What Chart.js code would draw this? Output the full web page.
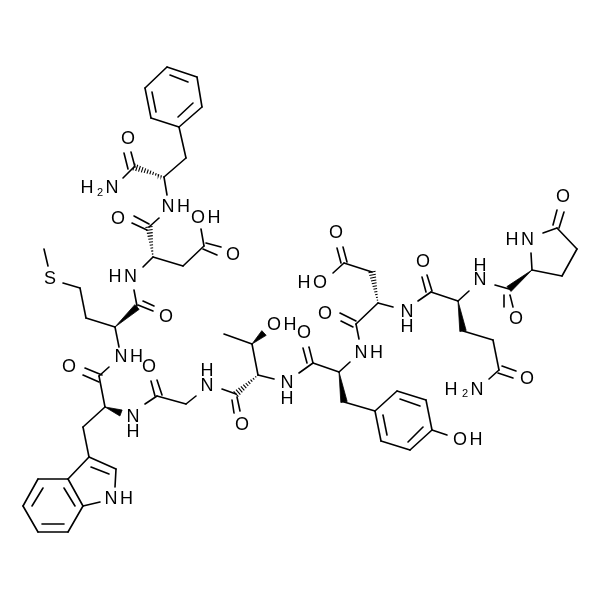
<!DOCTYPE html>
<html>
<head>
<meta charset="utf-8">
<style>html,body{margin:0;padding:0;background:#fff}canvas{display:block}</style>
<script src="https://cdn.jsdelivr.net/npm/chart.js@4"></script>
</head>
<body>
<canvas id="c" width="600" height="600"></canvas>
<script>
// Skeletal bonds as [x1, y1, x2, y2].
const phenylalanine = [
  [167,67,197,77],[197,77,202,107],[202,107,179,127],[179,127,151,118],[151,118,145,88],[145,88,167,67],
  [170,75,188,82],[152,92,156,112],[178,117,193,103],
  [179,127,186,158],[186,158,164,177],[164,177,167,195],
  [134,167,123,178],[124,153,128,169],[131,152,135,167]
];
const aspartate1 = [
  [159,218,149,227],[134,216,149,224],[132,223,147,230],
  [153,257,143,267],[153,257,183,266],[183,266,204,246],
  [201,229,204,246],[206,243,221,247],[203,249,217,255]
];
const methionine = [
  [134,290,137,306],[138,305,153,311],[143,301,154,306],
  [115,327,86,318],[86,318,80,288],[80,288,63,283],[48,266,44,249],
  [115,327,119,347]
];
const tryptophan = [
  [109,367,99,376],[85,368,102,375],[83,375,99,382],[99,376,105,407],
  [105,407,83,427],[83,427,89,457],
  [89,457,116,469],[116,469,115,487],[100,502,83,506],[83,506,68,479],[68,479,89,457],
  [91,467,109,474],
  [68,479,38,479],[38,479,23,506],[23,506,38,532],[38,532,68,532],[68,532,83,506],
  [43,488,32,506],[42,524,64,524],[64,488,75,506]
];
const glycine = [
  [145,404,157,396],[151,381,155,396],[157,380,162,395],[157,396,186,404],[186,404,196,396]
];
const threonine = [
  [222,389,236,394],[232,400,234,413],[237,397,240,411],
  [258,375,252,344],[252,344,224,334],[258,375,274,379]
];
const tyrosine = [
  [299,373,313,363],[303,348,307,363],[309,347,313,363],[313,363,339,372],[339,372,350,362],
  [344,402,375,411],
  [375,411,397,391],[397,391,426,400],[426,400,432,430],[432,430,410,450],[410,450,381,441],[381,441,375,411],
  [400,399,420,406],[383,415,387,435],[408,442,423,427],[432,430,447,435]
];
const aspartate2 = [
  [359,339,356,324],[340,313,356,321],[341,321,353,327],[356,324,378,303],
  [372,272,344,263],[337,248,341,263],[343,247,347,262],[344,263,333,273],
  [378,303,393,307]
];
const glutamine = [
  [418,301,431,292],[422,277,426,292],[427,275,432,291],[431,292,458,301],[458,301,469,291],
  [463,331,493,340],[493,340,499,370],[502,366,516,371],[498,373,513,378],[489,379,499,370]
];
const pyroglutamate = [
  [495,285,509,289],[504,295,504,307],[510,295,513,307],
  [532,270,531,253],[543,233,557,228],[553,225,557,210],[559,228,564,212],
  [557,228,577,249],[577,249,562,276],[562,276,532,270]
];
// Stereo bonds as [narrow x, narrow y, wide x, wide y].
const wedgeBonds = [
  [115,327,137,307],[105,407,121,413],[252,344,264,333],[339,372,344,402],[458,301,463,331],[532,270,509,289]
];
const hashBonds = [
  [164,177,134,167],[153,257,149,227],[258,375,236,394],[378,303,372,272]
];
// Atom labels as [text, x, y].
const atomLabels = [
  ["O",128,139],["H",87,188],["N",112,188],["NH",177,207],["O",118,219],
  ["H",214,218],["O",198,218],["O",233,255],["HN",124,277],["S",50,279],
  ["O",166,317],["NH",130,357],["O",69,367],["O",149,367],["N",133,417],["H",133,432],
  ["H",207,371],["N",207,386],["O",242,425],["O",274,325],["H",290,325],["N",287,383],["H",287,399],
  ["O",304,333],["NH",370,353],["O",325,314],["O",336,233],["H",304,283],["O",320,283],
  ["N",407,312],["H",407,327],["O",423,262],["H",480,266],["N",480,280],["O",516,319],
  ["HN",521,240],["O",563,197],["O",527,379],["H",451,390],["N",477,390],
  ["O",460,440],["H",476,440],["NH",120,499]
];
const subscripts = [["2",100,193],["2",465,394]];

const INK = "#000";
const lineSet = (pts) => ({data: pts, showLine: true, borderColor: INK, borderWidth: 1.6, borderCapStyle: "round",
  pointRadius: 0, fill: false, spanGaps: false, tension: 0});
const sections = [phenylalanine, aspartate1, methionine, tryptophan, glycine, threonine, tyrosine, aspartate2, glutamine, pyroglutamate];
const datasets = [];
sections.forEach(sec => sec.forEach(b => datasets.push(lineSet([{x:b[0],y:b[1]},{x:b[2],y:b[3]}]))));
wedgeBonds.forEach(b => {
  const dx=b[2]-b[0], dy=b[3]-b[1], L=Math.hypot(dx,dy), nx=-dy/L*3.2, ny=dx/L*3.2;
  datasets.push(Object.assign(lineSet([{x:b[0],y:b[1]},{x:b[2]+nx,y:b[3]+ny},{x:b[2]-nx,y:b[3]-ny},{x:b[0],y:b[1]}]),
    {fill:"shape", backgroundColor:INK, borderWidth:0.8}));
});
hashBonds.forEach(b => {
  const dx=b[2]-b[0], dy=b[3]-b[1], L=Math.hypot(dx,dy), n=Math.round(L/3), pts=[];
  for(let i=0;i<=n;i++){
    const t=i/n, w=0.4+3.2*t, x=b[0]+dx*t, y=b[1]+dy*t, nx=-dy/L*w, ny=dx/L*w;
    pts.push({x:x+nx,y:y+ny},{x:x-nx,y:y-ny},{x:NaN,y:NaN});
  }
  const ds=lineSet(pts); ds.borderWidth=1.1; ds.borderCapStyle="butt"; datasets.push(ds);
});

const labelPlugin = {
  id: "atomLabels",
  afterDatasetsDraw(chart){
    const {ctx, scales:{x,y}} = chart;
    ctx.save();
    ctx.fillStyle = INK;
    ctx.textAlign = "center";
    ctx.textBaseline = "middle";
    ctx.font = '18px "Liberation Sans", Arial, sans-serif';
    atomLabels.forEach(([t,a,b]) => {
      ctx.letterSpacing = t.length>1 ? "2.5px" : "0px";
      ctx.fillText(t, x.getPixelForValue(a), y.getPixelForValue(b)+0.5);
    });
    ctx.letterSpacing = "0px";
    ctx.font = '11px "Liberation Sans", Arial, sans-serif';
    subscripts.forEach(([t,a,b]) => ctx.fillText(t, x.getPixelForValue(a), y.getPixelForValue(b)));
    ctx.restore();
  }
};

new Chart(document.getElementById("c"), {
  type: "scatter",
  data: {datasets},
  options: {
    responsive: false, animation: false, devicePixelRatio: 1,
    layout: {padding: 0},
    plugins: {legend: {display:false}, tooltip: {enabled:false}, title:{display:false}},
    scales: {
      x: {type:"linear", min:0, max:600, display:false},
      y: {type:"linear", min:0, max:600, reverse:true, display:false}
    }
  },
  plugins: [labelPlugin]
});
</script>
</body>
</html>
